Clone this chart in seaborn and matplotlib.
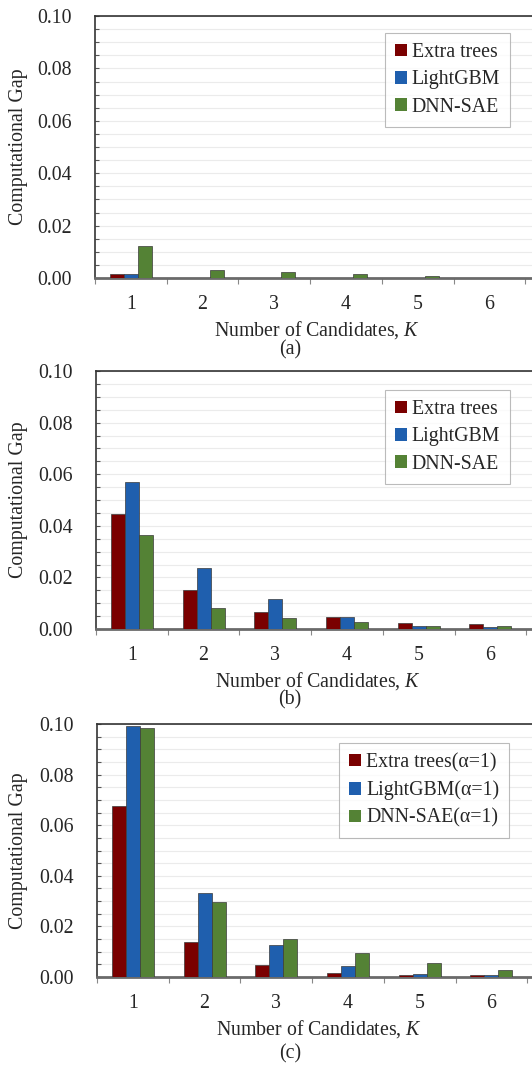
import numpy as np
import pandas as pd
import matplotlib
matplotlib.use("Agg")
import matplotlib.pyplot as plt
import seaborn as sns
from matplotlib.ticker import MultipleLocator, FormatStrFormatter, FixedLocator

# ---------------- data ----------------
K_values = [1, 2, 3, 4, 5, 6]

models_ab = ["Extra trees", "LightGBM", "DNN-SAE"]
models_c = ["Extra trees(\u03b1=1)", "LightGBM(\u03b1=1)", "DNN-SAE(\u03b1=1)"]

# panel (a)
a_extra = [0.0017, 0.0001, 0.0001, 0.0001, 0.0001, 0.0001]
a_lgbm = [0.0017, 0.0001, 0.0001, 0.0001, 0.0001, 0.0001]
a_dnn = [0.0122, 0.0031, 0.0022, 0.0014, 0.0006, 0.0001]

# panel (b)
b_extra = [0.0446, 0.0151, 0.0067, 0.0048, 0.0022, 0.0018]
b_lgbm = [0.0568, 0.0235, 0.0115, 0.0048, 0.0012, 0.0006]
b_dnn = [0.0364, 0.0083, 0.0041, 0.0026, 0.0012, 0.0010]

# panel (c)
c_extra = [0.0675, 0.0138, 0.0047, 0.0016, 0.0009, 0.0007]
c_lgbm = [0.0992, 0.0332, 0.0126, 0.0045, 0.0012, 0.0007]
c_dnn = [0.0984, 0.0295, 0.0149, 0.0096, 0.0057, 0.0028]

colors = ["#7a0000", "#1f5fae", "#548235"]
y_ticks = [0.00, 0.02, 0.04, 0.06, 0.08, 0.10]
panel_labels = ["(a)", "(b)", "(c)"]
xlabel = "Number of Candidates, $K$"
ylabel = "Computational Gap"

# ---------------- style ----------------
sns.set_theme(style="white")
plt.rcParams["font.family"] = ["Liberation Serif", "DejaVu Serif"]
plt.rcParams["mathtext.fontset"] = "custom"
plt.rcParams["mathtext.rm"] = "Liberation Serif"
plt.rcParams["mathtext.it"] = "Liberation Serif:italic"

FS = 14.3
W, H = 532, 1065
fig = plt.figure(figsize=(W / 100, H / 100), dpi=100)


def make_df(vals, models):
    rows = []
    for m, v in zip(models, vals):
        for k, y in zip(K_values, v):
            rows.append({"K": str(k), "gap": y, "model": m})
    return pd.DataFrame(rows)


panels = [
    (make_df([a_extra, a_lgbm, a_dnn], models_ab), models_ab, 16, 278, 95, (510, 33)),
    (make_df([b_extra, b_lgbm, b_dnn], models_ab), models_ab, 371, 629, 96, (510, 390)),
    (make_df([c_extra, c_lgbm, c_dnn], models_c), models_c, 724, 977, 97, (509, 743)),
]

cat_w = 71.7  # px per category
for i, (df, models, top, bot, left, leg_tr) in enumerate(panels):
    right = left + cat_w * 6.2
    ax = fig.add_axes([left / W, 1 - bot / H, (right - left) / W, (bot - top) / H])
    sns.barplot(data=df, x="K", y="gap", hue="model", hue_order=models,
                palette=colors, width=0.585, edgecolor="#3a3a3a", linewidth=0.5,
                saturation=1, ax=ax, zorder=3)
    ax.set_xlim(-0.5, -0.5 + (right - left) / cat_w)
    ax.set_ylim(0, 0.10)
    ax.yaxis.set_major_locator(FixedLocator(y_ticks))
    ax.yaxis.set_major_formatter(FormatStrFormatter("%.2f"))
    ax.yaxis.set_minor_locator(MultipleLocator(0.005))
    ax.grid(True, which="both", axis="y", color="#ebebeb", linewidth=0.8, zorder=0)
    ax.set_axisbelow(True)
    ax.tick_params(axis="y", which="both", direction="in", length=3, width=0.8,
                   color="#555555", left=True, labelsize=FS, pad=17)
    ax.xaxis.set_minor_locator(FixedLocator(np.arange(-0.5, 6.0, 1.0)))
    ax.tick_params(axis="x", which="major", length=0, labelsize=FS, pad=12)
    ax.tick_params(axis="x", which="minor", direction="out", length=4, width=0.8,
                   color="#888888", bottom=True)
    for s in ["top", "left"]:
        ax.spines[s].set_color("#333333")
        ax.spines[s].set_linewidth(1.2)
    ax.spines["bottom"].set_color("#6a6a6a")
    ax.spines["bottom"].set_linewidth(2.0)
    ax.spines["right"].set_visible(False)
    ax.set_xlabel(xlabel, fontsize=FS, labelpad=4)
    ax.set_ylabel(ylabel, fontsize=FS)
    ax.yaxis.set_label_coords(-(left - 28) / (right - left), 0.5)

    sns.move_legend(ax, "upper right", bbox_to_anchor=(leg_tr[0] / W, 1 - leg_tr[1] / H),
                    bbox_transform=fig.transFigure, title=None, frameon=True,
                    fontsize=FS, fancybox=False, edgecolor="#aaaaaa",
                    handlelength=0.6, handleheight=0.6, handletextpad=0.25,
                    labelspacing=0.42, borderpad=0.5, borderaxespad=0)
    leg = ax.get_legend()
    leg.get_frame().set_linewidth(0.8)
    for h in leg.legend_handles:
        h.set_edgecolor("none")

    ylab_pos = [350, 700, 1054][i]
    fig.text(290 / W, 1 - ylab_pos / H, panel_labels[i], ha="center", va="center",
             fontsize=FS)

fig.savefig("out.png", dpi=100)
